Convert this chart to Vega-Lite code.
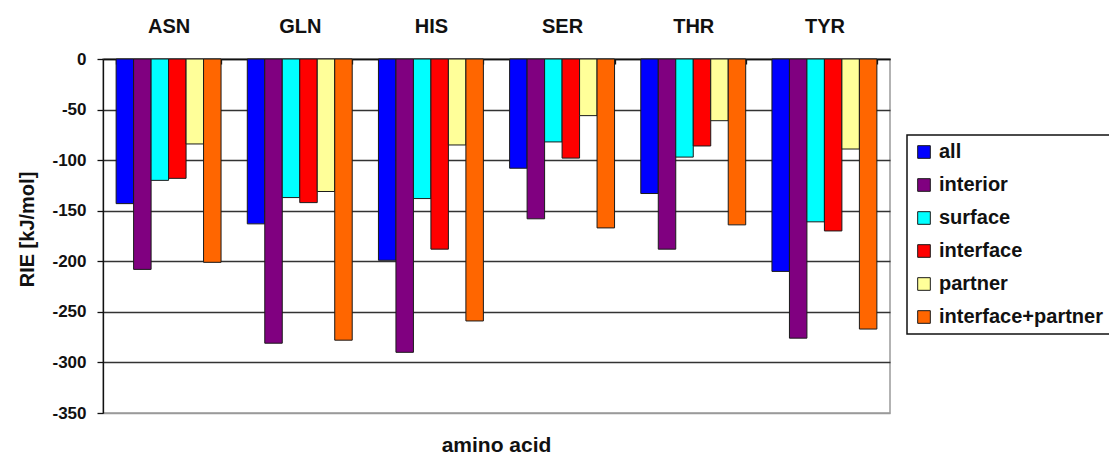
{
  "$schema": "https://vega.github.io/schema/vega-lite/v6.json",
  "width": 787,
  "height": 354,
  "autosize": {"type": "none"},
  "padding": {"left": 103, "top": 59, "right": 219, "bottom": 46},
  "background": "white",
  "title": {
    "text": "amino acid",
    "orient": "bottom",
    "anchor": "middle",
    "offset": 14,
    "fontSize": 21,
    "font": "Liberation Sans",
    "fontWeight": "bold",
    "color": "#111111"
  },
  "data": {
    "values": [
      {"amino_acid": "ASN", "set": "all", "rie": -143},
      {"amino_acid": "ASN", "set": "interior", "rie": -208},
      {"amino_acid": "ASN", "set": "surface", "rie": -120},
      {"amino_acid": "ASN", "set": "interface", "rie": -118},
      {"amino_acid": "ASN", "set": "partner", "rie": -84},
      {"amino_acid": "ASN", "set": "interface+partner", "rie": -201},
      {"amino_acid": "GLN", "set": "all", "rie": -163},
      {"amino_acid": "GLN", "set": "interior", "rie": -281},
      {"amino_acid": "GLN", "set": "surface", "rie": -137},
      {"amino_acid": "GLN", "set": "interface", "rie": -142},
      {"amino_acid": "GLN", "set": "partner", "rie": -131},
      {"amino_acid": "GLN", "set": "interface+partner", "rie": -278},
      {"amino_acid": "HIS", "set": "all", "rie": -199},
      {"amino_acid": "HIS", "set": "interior", "rie": -290},
      {"amino_acid": "HIS", "set": "surface", "rie": -138},
      {"amino_acid": "HIS", "set": "interface", "rie": -188},
      {"amino_acid": "HIS", "set": "partner", "rie": -85},
      {"amino_acid": "HIS", "set": "interface+partner", "rie": -259},
      {"amino_acid": "SER", "set": "all", "rie": -108},
      {"amino_acid": "SER", "set": "interior", "rie": -158},
      {"amino_acid": "SER", "set": "surface", "rie": -82},
      {"amino_acid": "SER", "set": "interface", "rie": -98},
      {"amino_acid": "SER", "set": "partner", "rie": -56},
      {"amino_acid": "SER", "set": "interface+partner", "rie": -167},
      {"amino_acid": "THR", "set": "all", "rie": -133},
      {"amino_acid": "THR", "set": "interior", "rie": -188},
      {"amino_acid": "THR", "set": "surface", "rie": -97},
      {"amino_acid": "THR", "set": "interface", "rie": -86},
      {"amino_acid": "THR", "set": "partner", "rie": -61},
      {"amino_acid": "THR", "set": "interface+partner", "rie": -164},
      {"amino_acid": "TYR", "set": "all", "rie": -210},
      {"amino_acid": "TYR", "set": "interior", "rie": -276},
      {"amino_acid": "TYR", "set": "surface", "rie": -161},
      {"amino_acid": "TYR", "set": "interface", "rie": -170},
      {"amino_acid": "TYR", "set": "partner", "rie": -89},
      {"amino_acid": "TYR", "set": "interface+partner", "rie": -267}
    ]
  },
  "mark": {"type": "bar", "stroke": "#1a1a1a", "strokeWidth": 1},
  "encoding": {
    "x": {
      "field": "amino_acid",
      "type": "nominal",
      "scale": {"paddingInner": 0.2, "paddingOuter": 0.1},
      "axis": {
        "orient": "top",
        "title": null,
        "labelAngle": 0,
        "labelFontSize": 20,
        "labelPadding": 28,
        "tickBand": "extent",
        "tickSize": -5,
        "grid": false
      }
    },
    "xOffset": {
      "field": "set",
      "type": "nominal",
      "sort": ["all", "interior", "surface", "interface", "partner", "interface+partner"]
    },
    "y": {
      "field": "rie",
      "type": "quantitative",
      "scale": {"domain": [-350, 0], "nice": false},
      "axis": {
        "title": "RIE [kJ/mol]",
        "values": [0, -50, -100, -150, -200, -250, -300, -350],
        "labelExpr": "'' + datum.value",
        "labelFontSize": 17,
        "labelPadding": 11,
        "tickSize": 6,
        "titleFontSize": 20,
        "titleX": -70,
        "titleY": 170,
        "titleAlign": "center",
        "titleBaseline": "alphabetic",
        "grid": true,
        "gridWidth": 1.3,
        "gridColor": {"condition": {"test": "datum.value === -350", "value": "#9a9a9a"}, "value": "#333333"}
      }
    },
    "color": {
      "field": "set",
      "type": "nominal",
      "scale": {
        "domain": ["all", "interior", "surface", "interface", "partner", "interface+partner"],
        "range": ["#0000ff", "#800080", "#00ffff", "#ff0000", "#ffff99", "#ff6600"]
      },
      "legend": {
        "orient": "none",
        "legendX": 804,
        "legendY": 76,
        "title": null,
        "symbolType": "square",
        "symbolSize": 160,
        "symbolStrokeColor": "#1a1a1a",
        "symbolStrokeWidth": 1,
        "symbolOpacity": 1,
        "labelFontSize": 20,
        "labelLimit": 300,
        "labelOffset": 5,
        "rowPadding": 13,
        "padding": 7,
        "strokeColor": "#111111",
        "fillColor": "white"
      }
    }
  },
  "config": {
    "font": "Liberation Sans",
    "view": {"stroke": "#9a9a9a", "strokeWidth": 1.5},
    "axis": {
      "labelFont": "Liberation Sans",
      "labelFontWeight": "bold",
      "labelColor": "#111111",
      "titleFont": "Liberation Sans",
      "titleFontWeight": "bold",
      "titleColor": "#111111",
      "domainColor": "#111111",
      "domainWidth": 1.3,
      "tickColor": "#111111",
      "tickWidth": 1.3
    },
    "legend": {
      "labelFont": "Liberation Sans",
      "labelFontWeight": "bold",
      "labelColor": "#111111",
      "strokeWidth": 1.5
    }
  }
}
